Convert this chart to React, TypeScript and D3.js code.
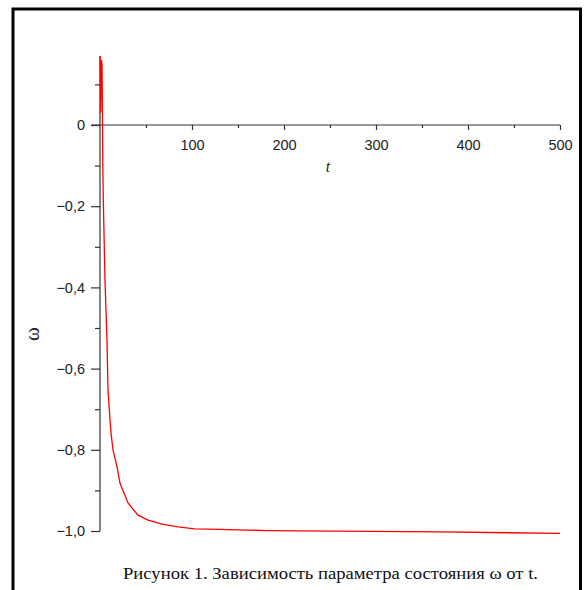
import React, { useRef, useEffect } from 'react';
import * as d3 from 'd3';

// ω(t)
const tValues = [0.2, 0.6, 1.6, 2.2, 3.0, 3.6, 5.4, 7.6, 8.7, 10.9, 12, 14.1, 18.5, 21.7, 30.4, 41.3, 52.2, 67.4, 84.8, 103, 130, 181, 370, 500];
const omegaValues = [0.17, 0.03, 0.16, 0.15, -0.09, -0.185, -0.38, -0.53, -0.653, -0.727, -0.759, -0.8, -0.842, -0.882, -0.931, -0.961, -0.973, -0.983, -0.99, -0.995, -0.996, -0.999, -1.002, -1.006];

const xMajorTicks = [100, 200, 300, 400, 500];
const xMinorTicks = [50, 150, 250, 350, 450];
const yMajorTicks = [0, -0.2, -0.4, -0.6, -0.8, -1.0];
const yMinorTicks = [0.1, -0.1, -0.3, -0.5, -0.7, -0.9];

const caption = 'Рисунок 1. Зависимость параметра состояния ω от t.';

const width = 587;
const height = 590;

const ruLocale = d3.formatLocale({ decimal: ',', thousands: ' ', grouping: [3], currency: ['', ''], minus: '\u2212' });
const fmtY = (v: number) => (Math.abs(v) < 1e-9 ? '0' : ruLocale.format('.1f')(v));

export default function App() {
  const ref = useRef<SVGSVGElement>(null);

  useEffect(() => {
    if (!ref.current) return;
    const svg = d3.select(ref.current);
    svg.selectAll('*').remove();

    const x = d3.scaleLinear().domain([0, 500]).range([100, 560]);
    const y = d3.scaleLinear().domain([-1, 0]).range([531, 125]);
    const axisColor = '#333';
    const labelFont = '"Liberation Sans", Arial, sans-serif';

    // frame
    svg.append('path')
      .attr('d', `M13,${height + 5} V9 H580.5 V${height + 5}`)
      .attr('fill', 'none')
      .attr('stroke', '#000')
      .attr('stroke-width', 3);

    // x axis
    const gx = svg.append('g').attr('transform', `translate(0,${y(0)})`);
    gx.append('line')
      .attr('x1', 91).attr('x2', x(500))
      .attr('stroke', axisColor).attr('stroke-width', 1.2);
    gx.append('g').call(d3.axisBottom(x).tickValues(xMajorTicks).tickSize(5).tickPadding(10).tickFormat(d3.format('d')));
    gx.append('g').call(d3.axisBottom(x).tickValues(xMinorTicks).tickSize(3).tickFormat(() => ''));

    // y axis
    const gy = svg.append('g').attr('transform', `translate(${x(0)},0)`);
    gy.append('line')
      .attr('y1', y(0.17)).attr('y2', y(-1))
      .attr('stroke', axisColor).attr('stroke-width', 1.2);
    gy.append('g').call(d3.axisLeft(y).tickValues(yMajorTicks).tickSize(9).tickPadding(6).tickFormat(d => fmtY(+d)));
    gy.append('g').call(d3.axisLeft(y).tickValues(yMinorTicks).tickSize(5).tickFormat(() => ''));

    svg.selectAll('.domain').remove();
    svg.selectAll('.tick line').attr('stroke', axisColor).attr('stroke-width', 1.2);
    svg.selectAll('.tick text')
      .attr('fill', '#222')
      .style('font-family', labelFont)
      .style('font-size', '14.5px');

    // axis titles
    svg.append('text')
      .attr('x', 328).attr('y', 172)
      .attr('text-anchor', 'middle')
      .style('font-family', '"Liberation Serif", serif')
      .style('font-style', 'italic')
      .style('font-size', '16px')
      .attr('fill', '#222')
      .text('t');

    svg.append('text')
      .attr('transform', 'translate(39,334) rotate(-90)')
      .attr('text-anchor', 'middle')
      .style('font-family', '"Liberation Serif", serif')
      .style('font-size', '21px')
      .attr('fill', '#222')
      .text('ω');

    // curve
    const line = d3.line<number>()
      .x((_, i) => x(tValues[i]))
      .y(d => y(d));
    svg.append('path')
      .datum(omegaValues)
      .attr('d', line)
      .attr('fill', 'none')
      .attr('stroke', '#ff0000')
      .attr('stroke-width', 1.3);

    // caption
    svg.append('text')
      .attr('x', 123).attr('y', 579)
      .attr('textLength', 415)
      .attr('lengthAdjust', 'spacingAndGlyphs')
      .style('font-family', '"Liberation Serif", "Times New Roman", serif')
      .style('font-size', '16.5px')
      .attr('fill', '#111')
      .text(caption);
  }, []);

  return (
    <svg
      ref={ref}
      width={width}
      height={height}
      style={{ position: 'absolute', left: 0, top: 0, background: '#fff' }}
    />
  );
}
